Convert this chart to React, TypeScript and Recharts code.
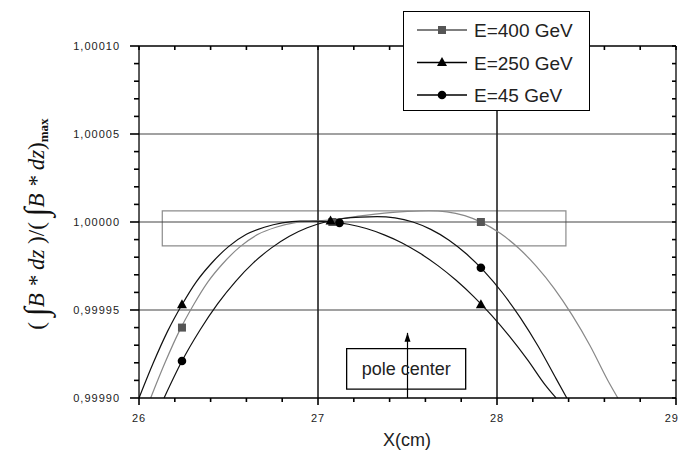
import React from "react";
import {
  ComposedChart,
  Line,
  Scatter,
  XAxis,
  YAxis,
  ReferenceLine,
  ReferenceArea,
  Legend,
} from "recharts";

// curves, x in cm, y = ratio to max
const e400 = [
  { x: 26.065, y: 0.9999 },
  { x: 26.145, y: 0.99992 },
  { x: 26.225, y: 0.999938 },
  { x: 26.305, y: 0.999953 },
  { x: 26.385, y: 0.999966 },
  { x: 26.465, y: 0.999976 },
  { x: 26.565, y: 0.999986 },
  { x: 26.665, y: 0.999993 },
  { x: 26.765, y: 0.999997 },
  { x: 26.865, y: 0.9999995 },
  { x: 27.0, y: 1.0000006 },
  { x: 27.12, y: 1.0000018 },
  { x: 27.25, y: 1.0000036 },
  { x: 27.37, y: 1.000005 },
  { x: 27.5, y: 1.000006 },
  { x: 27.62, y: 1.0000064 },
  { x: 27.72, y: 1.0000058 },
  { x: 27.82, y: 1.0000036 },
  { x: 27.92, y: 0.9999995 },
  { x: 28.02, y: 0.9999934 },
  { x: 28.12, y: 0.9999852 },
  { x: 28.22, y: 0.9999748 },
  { x: 28.32, y: 0.9999622 },
  { x: 28.42, y: 0.9999471 },
  { x: 28.52, y: 0.9999297 },
  { x: 28.62, y: 0.9999098 },
  { x: 28.675, y: 0.9999 },
];

const e250 = [
  { x: 26.0, y: 0.9999 },
  { x: 26.08, y: 0.99992 },
  { x: 26.16, y: 0.999938 },
  { x: 26.24, y: 0.999953 },
  { x: 26.32, y: 0.999966 },
  { x: 26.4, y: 0.999976 },
  { x: 26.5, y: 0.999986 },
  { x: 26.6, y: 0.999993 },
  { x: 26.7, y: 0.999997 },
  { x: 26.8, y: 0.9999995 },
  { x: 26.9, y: 1.0000005 },
  { x: 26.97, y: 1.0000005 },
  { x: 27.07, y: 1.0000001 },
  { x: 27.17, y: 0.9999987 },
  { x: 27.27, y: 0.9999963 },
  { x: 27.37, y: 0.9999927 },
  { x: 27.47, y: 0.9999881 },
  { x: 27.57, y: 0.9999822 },
  { x: 27.67, y: 0.9999752 },
  { x: 27.77, y: 0.999967 },
  { x: 27.87, y: 0.9999576 },
  { x: 27.97, y: 0.9999469 },
  { x: 28.07, y: 0.999935 },
  { x: 28.17, y: 0.9999218 },
  { x: 28.27, y: 0.9999073 },
  { x: 28.33, y: 0.9999 },
];

const e45 = [
  { x: 26.14, y: 0.9999 },
  { x: 26.24, y: 0.999921 },
  { x: 26.34, y: 0.9999385 },
  { x: 26.44, y: 0.9999536 },
  { x: 26.54, y: 0.9999663 },
  { x: 26.64, y: 0.9999769 },
  { x: 26.74, y: 0.9999853 },
  { x: 26.84, y: 0.9999919 },
  { x: 26.94, y: 0.9999967 },
  { x: 27.04, y: 1.0 },
  { x: 27.14, y: 1.000002 },
  { x: 27.24, y: 1.0000028 },
  { x: 27.33, y: 1.000003 },
  { x: 27.43, y: 1.0000023 },
  { x: 27.53, y: 1.0 },
  { x: 27.63, y: 0.9999958 },
  { x: 27.73, y: 0.9999898 },
  { x: 27.83, y: 0.9999818 },
  { x: 27.93, y: 0.9999718 },
  { x: 28.03, y: 0.9999598 },
  { x: 28.13, y: 0.9999457 },
  { x: 28.23, y: 0.9999294 },
  { x: 28.33, y: 0.999911 },
  { x: 28.39, y: 0.9999 },
];

// symbols
const marks400 = [
  { x: 26.24, y: 0.99994 },
  { x: 27.08, y: 1.0 },
  { x: 27.91, y: 1.0 },
];
const marks250 = [
  { x: 26.24, y: 0.999953 },
  { x: 27.07, y: 1.0000005 },
  { x: 27.91, y: 0.999953 },
];
const marks45 = [
  { x: 26.24, y: 0.999921 },
  { x: 27.12, y: 0.9999995 },
  { x: 27.91, y: 0.999974 },
];

const xMajor = [26, 27, 28, 29];
const xMinor = [26.2, 26.4, 26.6, 26.8, 27.2, 27.4, 27.6, 27.8, 28.2, 28.4, 28.6, 28.8];
const yMajor = [0.9999, 0.99995, 1.0, 1.00005, 1.0001];
const yMinor = [
  0.99991, 0.99992, 0.99993, 0.99994, 0.99996, 0.99997, 0.99998, 0.99999,
  1.00001, 1.00002, 1.00003, 1.00004, 1.00006, 1.00007, 1.00008, 1.00009,
];
const gridX = [27, 28];
const gridY = [0.99995, 1.0, 1.00005];

// flat window and pole center annotation
const windowBox = { x1: 26.13, x2: 28.385, y1: 0.9999864, y2: 1.0000063 };
const poleBox = { x1: 27.16, x2: 27.825, y1: 0.999905, y2: 0.999928 };
const poleX = 27.5;
const poleArrowTop = 0.999937;

const legendItems = [
  { name: "E=400 GeV", color: "#555", shape: "square" },
  { name: "E=250 GeV", color: "#000", shape: "triangle" },
  { name: "E=45 GeV", color: "#000", shape: "circle" },
];

const X_DOMAIN: [number, number] = [26, 29];
const Y_DOMAIN: [number, number] = [0.9999, 1.0001];
const fmtY = (v: number) => v.toFixed(5).replace(".", ",");

// axes need a size > 0 to render, keep it tiny so they sit on the frame
const THIN = 0.01;

const FONT = "'Liberation Sans', Arial, sans-serif";
const axisLineStyle = { stroke: "#000", strokeWidth: 1.3 };

const Mark = ({ shape, cx, cy, fill }: { shape: string; cx: number; cy: number; fill: string }) => {
  if (shape === "square") return <rect x={cx - 4} y={cy - 4} width={8} height={8} fill={fill} />;
  if (shape === "triangle")
    return <polygon points={`${cx},${cy - 5.5} ${cx - 5},${cy + 3.5} ${cx + 5},${cy + 3.5}`} fill={fill} />;
  return <circle cx={cx} cy={cy} r={4.3} fill={fill} />;
};

// short tick drawn from the start point of a zero-length reference segment
const TickSeg = (p: any) => (
  <line
    x1={p.x1}
    y1={p.y1}
    x2={p.x1 + (p.dx || 0)}
    y2={p.y1 + (p.dy || 0)}
    stroke="#000"
    strokeWidth={1.6}
  />
);

const BottomLabel = (p: any) => {
  const v = p.payload.value;
  const last = v === 29;
  return (
    <text
      x={last ? p.x + 3 : p.x}
      y={p.y + 17}
      textAnchor={last ? "end" : "middle"}
      fontFamily={FONT}
      fontSize={11}
      letterSpacing={1}
      fill="#222"
    >
      {v}
    </text>
  );
};

const LeftLabel = (p: any) => (
  <text x={p.x - 10} y={p.y + 4} textAnchor="end" fontFamily={FONT} fontSize={11} letterSpacing={1} fill="#222">
    {fmtY(p.payload.value)}
  </text>
);

const YTitle = () => (
  <text
    x={36}
    y={224}
    transform="rotate(-90, 36, 224)"
    textAnchor="middle"
    dominantBaseline="central"
    fontFamily="'Liberation Serif', 'DejaVu Serif', serif"
    fontSize={23}
    fill="#111"
  >
    <tspan>( </tspan>
    <tspan fontSize={33}>∫</tspan>
    <tspan fontStyle="italic">B * dz</tspan>
    <tspan> )/( </tspan>
    <tspan fontSize={33}>∫</tspan>
    <tspan fontStyle="italic">B * dz</tspan>
    <tspan>)</tspan>
    <tspan fontSize={13} fontWeight="bold" dy={7}>max</tspan>
  </text>
);

const XTitle = () => (
  <text x={407} y={446} textAnchor="middle" fontFamily={FONT} fontSize={18} fill="#222">
    X(cm)
  </text>
);

const PoleArrow = (p: any) => (
  <g>
    <line x1={p.x1} y1={p.y1} x2={p.x2} y2={p.y2} stroke="#000" strokeWidth={1.2} />
    <polygon points={`${p.x2},${p.y2} ${p.x2 - 3},${p.y2 + 9} ${p.x2 + 3},${p.y2 + 9}`} fill="#000" />
  </g>
);

const LegendBox = () => (
  <div
    style={{
      width: 187,
      height: 100,
      border: "1.5px solid #000",
      background: "#fff",
      boxSizing: "border-box",
    }}
  >
    <svg width={184} height={97} style={{ display: "block" }}>
      {legendItems.map((it, i) => {
        const cy = 18 + i * 32.5;
        return (
          <g key={it.name}>
            <line x1={13} x2={63} y1={cy} y2={cy} stroke={it.color} strokeWidth={1.3} />
            <Mark shape={it.shape} cx={38} cy={cy} fill={it.color} />
            <text x={70} y={cy + 7} fontFamily={FONT} fontSize={19} fill="#222">
              {it.name}
            </text>
          </g>
        );
      })}
    </svg>
  </div>
);

export default function App() {
  return (
    <div>
      <style>{"body{margin:0;background:#fff}"}</style>
      <ComposedChart width={680} height={456} margin={{ top: 46, right: 4, bottom: 58, left: 139 }}>
        <XAxis
          type="number"
          dataKey="x"
          domain={X_DOMAIN}
          ticks={xMajor}
          interval={0}
          height={THIN}
          tickSize={7}
          tickMargin={0}
          tick={<BottomLabel />}
          tickLine={false}
          axisLine={axisLineStyle}
          label={<XTitle />}
        />
        <YAxis
          type="number"
          dataKey="y"
          domain={Y_DOMAIN}
          ticks={yMajor}
          interval={0}
          width={THIN}
          tickSize={9}
          tickMargin={0}
          tick={<LeftLabel />}
          tickLine={false}
          axisLine={axisLineStyle}
          label={<YTitle />}
        />
        <XAxis
          xAxisId="top"
          orientation="top"
          mirror
          type="number"
          domain={X_DOMAIN}
          ticks={xMajor}
          height={THIN}
          tick={false}
          tickLine={false}
          axisLine={axisLineStyle}
        />
        <YAxis
          yAxisId="right"
          orientation="right"
          mirror
          type="number"
          domain={Y_DOMAIN}
          ticks={yMajor}
          width={THIN}
          tick={false}
          tickLine={false}
          axisLine={axisLineStyle}
        />

        {gridY.map((v) => (
          <ReferenceLine key={`gy${v}`} y={v} stroke="#444" strokeWidth={1.2} />
        ))}
        {gridX.map((v) => (
          <ReferenceLine key={`gx${v}`} x={v} stroke="#222" strokeWidth={1.6} />
        ))}

        {/* frame ticks: outward at bottom and left, inward at top and right */}
        {[...xMajor, ...xMinor].map((v) => (
          <ReferenceLine
            key={`tb${v}`}
            segment={[
              { x: v, y: Y_DOMAIN[0] },
              { x: v, y: Y_DOMAIN[0] },
            ]}
            ifOverflow="visible"
            shape={<TickSeg dy={xMajor.includes(v) ? 7 : 4} />}
          />
        ))}
        {[...xMajor, ...xMinor].map((v) => (
          <ReferenceLine
            key={`tt${v}`}
            segment={[
              { x: v, y: Y_DOMAIN[1] },
              { x: v, y: Y_DOMAIN[1] },
            ]}
            ifOverflow="visible"
            shape={<TickSeg dy={4} />}
          />
        ))}
        {[...yMajor, ...yMinor].map((v) => (
          <ReferenceLine
            key={`tl${v}`}
            segment={[
              { x: X_DOMAIN[0], y: v },
              { x: X_DOMAIN[0], y: v },
            ]}
            ifOverflow="visible"
            shape={<TickSeg dx={yMajor.includes(v) ? -9 : -5} />}
          />
        ))}
        {[...yMajor, ...yMinor].map((v) => (
          <ReferenceLine
            key={`tr${v}`}
            segment={[
              { x: X_DOMAIN[1], y: v },
              { x: X_DOMAIN[1], y: v },
            ]}
            ifOverflow="visible"
            shape={<TickSeg dx={-4} />}
          />
        ))}

        <ReferenceArea {...windowBox} fill="none" stroke="#8c8c8c" strokeWidth={1.2} fillOpacity={0} />
        <ReferenceArea
          {...poleBox}
          fill="#fff"
          fillOpacity={1}
          stroke="#000"
          strokeWidth={1.3}
          label={{ value: "pole center", position: "center", fontSize: 18, fill: "#222", fontFamily: FONT }}
        />
        <ReferenceLine
          segment={[
            { x: poleX, y: Y_DOMAIN[0] },
            { x: poleX, y: poleArrowTop },
          ]}
          shape={<PoleArrow />}
        />

        <Line data={e400} dataKey="y" type="monotone" stroke="#888" strokeWidth={1.2} dot={false} isAnimationActive={false} />
        <Line data={e250} dataKey="y" type="monotone" stroke="#111" strokeWidth={1.2} dot={false} isAnimationActive={false} />
        <Line data={e45} dataKey="y" type="monotone" stroke="#111" strokeWidth={1.2} dot={false} isAnimationActive={false} />

        <Scatter data={marks400} shape={(p: any) => <Mark shape="square" cx={p.cx} cy={p.cy} fill="#555" />} isAnimationActive={false} />
        <Scatter data={marks250} shape={(p: any) => <Mark shape="triangle" cx={p.cx} cy={p.cy} fill="#000" />} isAnimationActive={false} />
        <Scatter data={marks45} shape={(p: any) => <Mark shape="circle" cx={p.cx} cy={p.cy} fill="#000" />} isAnimationActive={false} />

        <Legend
          layout="horizontal"
          verticalAlign="middle"
          align="center"
          content={() => <LegendBox />}
          wrapperStyle={{ left: 403, top: 11, width: 187, height: 100 }}
        />
      </ComposedChart>
    </div>
  );
}
